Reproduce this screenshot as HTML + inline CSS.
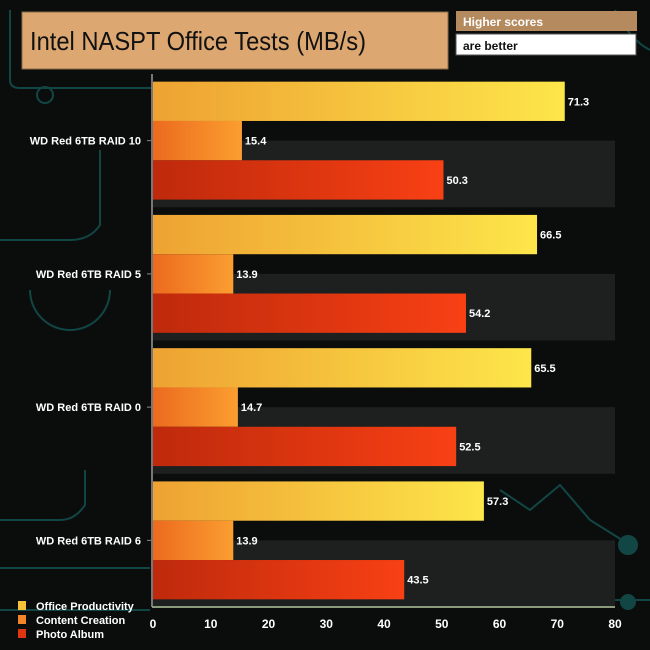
<!DOCTYPE html>
<html><head><meta charset="utf-8"><style>
body{margin:0;width:650px;height:650px;overflow:hidden;background:#0b0d0d;font-family:"Liberation Sans",sans-serif}
svg{display:block}
</style></head><body>
<svg width="650" height="650">
<defs>
<linearGradient id="g0" x1="0" x2="1"><stop offset="0" stop-color="#eea232"/><stop offset="1" stop-color="#fde64a"/></linearGradient>
<linearGradient id="g1" x1="0" x2="1"><stop offset="0" stop-color="#ec6a1e"/><stop offset="1" stop-color="#fb9e30"/></linearGradient>
<linearGradient id="g2" x1="0" x2="1"><stop offset="0" stop-color="#be2a0c"/><stop offset="1" stop-color="#f84014"/></linearGradient>
</defs>
<rect width="650" height="650" fill="#0b0d0d"/>
<g stroke="#135553" stroke-width="2" fill="none" opacity="0.8">
<path d="M10 10 V80 Q10 88 20 88 H480 Q500 88 510 100"/>
<path d="M0 240 H70 Q90 240 100 225 V150"/>
<path d="M0 520 H60 Q75 520 85 505 V470"/>
<path d="M0 568 H150"/><path d="M0 610 H150"/>
<path d="M500 490 L530 510 L560 485 L590 520 L630 545"/>
<path d="M470 600 H650"/><path d="M615 10 Q630 40 650 50"/>
<circle cx="45" cy="95" r="8"/><circle cx="628" cy="545" r="9" fill="#135553"/><circle cx="628" cy="602" r="7" fill="#135553"/>
<path d="M30 290 A40 40 0 0 0 110 290"/>
</g>
<rect x="22" y="12" width="426" height="57" fill="#dca771" stroke="#8a6a48"/>
<text x="30" y="50" font-size="26" fill="#111" textLength="336" lengthAdjust="spacingAndGlyphs">Intel NASPT Office Tests (MB/s)</text>
<rect x="456" y="11" width="181" height="20" fill="#b48a5e"/>
<text x="463" y="26" font-size="12" font-weight="bold" fill="#fff">Higher scores</text>
<rect x="456" y="34" width="180" height="21" fill="#fff" stroke="#555"/>
<text x="463" y="50" font-size="12" font-weight="bold" fill="#111">are better</text>
<g id="plot"></g>
</svg>
<script>
const categories=["WD Red 6TB RAID 10","WD Red 6TB RAID 5","WD Red 6TB RAID 0","WD Red 6TB RAID 6"];
const seriesNames=["Office Productivity","Content Creation","Photo Album"];
const office=[71.3,66.5,65.5,57.3];
const content=[15.4,13.9,14.7,13.9];
const photo=[50.3,54.2,52.5,43.5];
const ticks=[0,10,20,30,40,50,60,70,80];
const ns="http://www.w3.org/2000/svg";
const g=document.getElementById('plot');
const x0=153,x1=615,yTop=74,yBot=607;
const xs=v=>x0+(v-0)/80*(x1-x0);
const groupH=(yBot-yTop)/categories.length;
const barH=groupH*0.295;
function mk(t,a){const e=document.createElementNS(ns,t);for(const k in a)e.setAttribute(k,a[k]);g.appendChild(e);return e;}
const series=[office,content,photo];
categories.forEach((c,i)=>{
  const gt=yTop+i*groupH;
  const band=mk('rect',{x:x0,y:gt+groupH*0.5,width:x1-x0,height:groupH*0.5,fill:'#1e1f1f'});
  
  
  const off=(groupH-3*barH)/2;
  series.forEach((s,j)=>{
    const y=gt+off+j*barH;
    const r=mk('rect',{x:x0,y:y,width:xs(s[i])-x0,height:barH,fill:'url(#g'+j+')'});
    
    
    const t=mk('text',{x:xs(s[i])+3,y:y+barH/2+4,'font-size':11,'font-weight':'bold',fill:'#fff'});
    t.textContent=s[i].toFixed(1);
    
    
  });
  const l=mk('text',{x:141,y:gt+groupH/2+4,'font-size':11,'font-weight':'bold',fill:'#fff','text-anchor':'end'});
  l.textContent=c;
  
  
  const tk=mk('line',{x1:147,x2:153,y1:gt+groupH/2,y2:gt+groupH/2,stroke:'#888'});
  
  
});
const ya=mk('line',{x1:152,x2:152,y1:yTop,y2:yBot,stroke:'#777','stroke-width':2});


const xa=mk('line',{x1:152,x2:x1,y1:yBot,y2:yBot,stroke:'#8a9a7a','stroke-width':2});


ticks.forEach(v=>{
  const t=mk('text',{x:xs(v),y:628,'font-size':12,'font-weight':'bold',fill:'#fff','text-anchor':'middle'});
  t.textContent=v;
  
  
});
const lc=['#f6c23a','#f3842a','#e0360f'];
seriesNames.forEach((n,j)=>{
  const r=mk('rect',{x:18,y:601+j*14,width:8,height:9,fill:lc[j]});
  
  
  const t=mk('text',{x:36,y:610+j*14,'font-size':11,'font-weight':'bold',fill:'#fff'});
  t.textContent=n;
  
  
});
</script>
</body></html>
